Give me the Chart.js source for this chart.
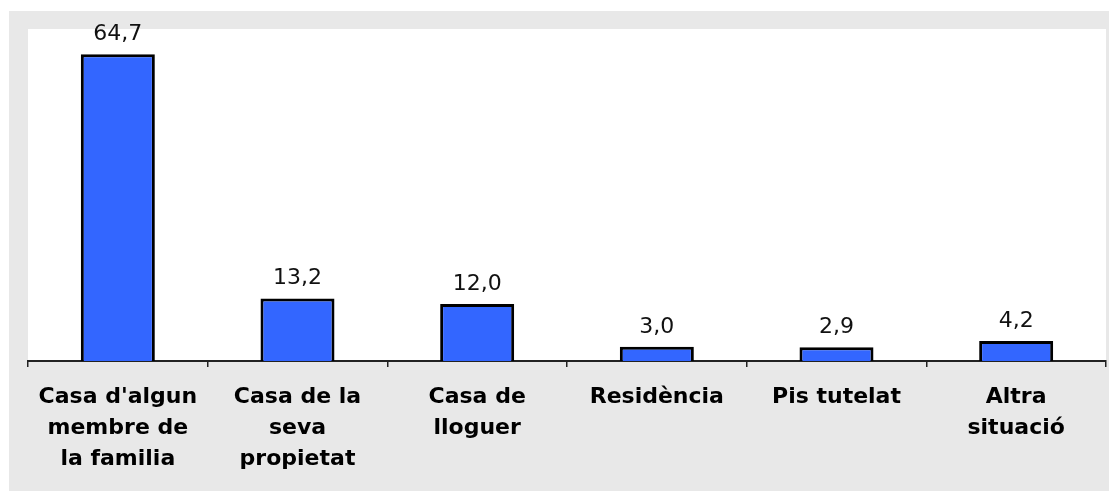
<!DOCTYPE html>
<html>
<head>
<meta charset="utf-8">
<script src="https://cdn.jsdelivr.net/npm/chart.js@4/dist/chart.umd.min.js"></script>
<style>
  html, body { margin: 0; padding: 0; background: #e8e8e8; overflow: hidden; }
  canvas { display: block; }
</style>
</head>
<body>
<canvas id="myChart" width="1109" height="491"></canvas>
<script>
// DATA
const categories = [
  ["Casa d'algun", "membre de", "la familia"],
  ["Casa de la", "seva", "propietat"],
  ["Casa de", "lloguer"],
  ["Residència"],
  ["Pis tutelat"],
  ["Altra", "situació"]
];
const values = [64.7, 13.2, 12.0, 3.0, 2.9, 4.2];
const yMax = 70;

// gray frame + white plot area
const background = {
  id: 'background',
  beforeDraw(chart) {
    const { ctx, chartArea: a } = chart;
    ctx.save();
    ctx.fillStyle = '#fff';
    ctx.fillRect(0, 0, chart.width, chart.height);
    ctx.fillStyle = '#e8e8e8';
    ctx.fillRect(9, 11, chart.width - 9, chart.height - 11);
    ctx.fillStyle = '#fff';
    ctx.fillRect(a.left, a.top, a.right - a.left, a.bottom - a.top);
    ctx.restore();
  }
};

// value labels above bars, comma decimals
const valueLabels = {
  id: 'valueLabels',
  afterDatasetsDraw(chart) {
    const { ctx } = chart;
    const meta = chart.getDatasetMeta(0);
    ctx.save();
    ctx.font = '22px "DejaVu Sans"';
    ctx.fillStyle = '#111';
    ctx.textAlign = 'center';
    ctx.textBaseline = 'alphabetic';
    meta.data.forEach((bar, i) => {
      ctx.fillText(values[i].toFixed(1).replace('.', ','), bar.x, bar.y - 14);
    });
    ctx.restore();
  }
};

Chart.defaults.font.family = '"DejaVu Sans", Verdana, sans-serif';

const ctx = document.getElementById('myChart');

new Chart(ctx, {
  type: 'bar',
  data: {
    labels: categories,
    datasets: [{
      data: values,
      backgroundColor: '#3366ff',
      borderColor: '#000',
      borderWidth: 3,
      categoryPercentage: 1,
      barPercentage: 0.412
    }]
  },
  options: {
    responsive: false,
    animation: false,
    devicePixelRatio: 1,
    layout: { padding: { left: 28, right: 3, top: 29, bottom: 0 } },
    plugins: {
      legend: { display: false },
      tooltip: { enabled: false }
    },
    scales: {
      y: {
        display: false,
        min: 0,
        max: yMax
      },
      x: {
        afterFit: s => { s.height = 130; },
        border: { display: true, color: '#222', width: 2 },
        grid: {
          drawOnChartArea: false,
          drawTicks: true,
          tickLength: 6,
          color: '#222',
          lineWidth: 1.5
        },
        ticks: {
          color: '#000',
          padding: 15,
          maxRotation: 0,
          autoSkip: false,
          font: { size: 22, weight: 'bold', lineHeight: 1.4 }
        }
      }
    }
  },
  plugins: [background, valueLabels]
});
</script>
</body>
</html>
